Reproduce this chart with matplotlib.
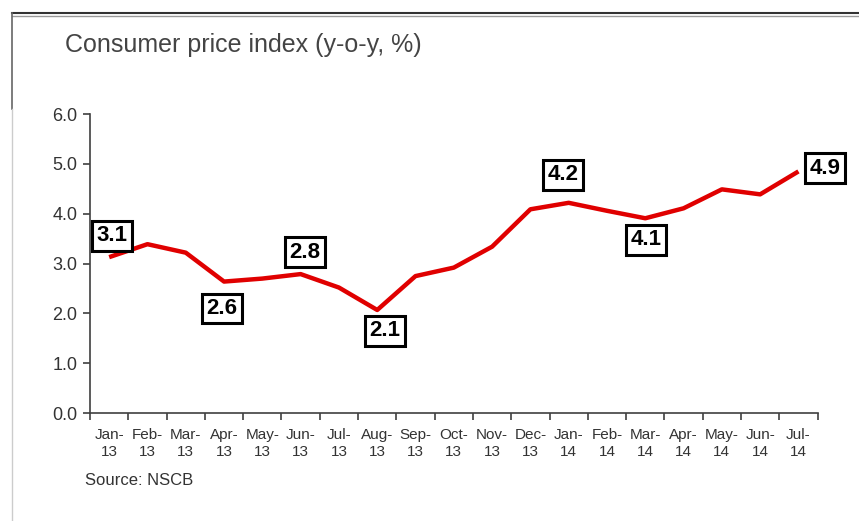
import numpy as np
import matplotlib.pyplot as plt
from matplotlib.lines import Line2D

# Consumer price index, year on year (%)
months = ["Jan-\n13", "Feb-\n13", "Mar-\n13", "Apr-\n13", "May-\n13", "Jun-\n13",
          "Jul-\n13", "Aug-\n13", "Sep-\n13", "Oct-\n13", "Nov-\n13", "Dec-\n13",
          "Jan-\n14", "Feb-\n14", "Mar-\n14", "Apr-\n14", "May-\n14", "Jun-\n14",
          "Jul-\n14"]
cpi = [3.13, 3.39, 3.22, 2.64, 2.70, 2.79, 2.52, 2.07, 2.75, 2.92,
       3.34, 4.09, 4.22, 4.06, 3.91, 4.11, 4.49, 4.39, 4.85]

# callouts: which month, and the printed text
callout_idx = [0, 3, 5, 7, 12, 14, 18]
callout_text = ["3.1", "2.6", "2.8", "2.1", "4.2", "4.1", "4.9"]
# where each box sits relative to its point (data units)
callout_offset = [(0.07, 0.43), (-0.06, -0.54), (0.11, 0.44), (0.2, -0.42),
                  (-0.14, 0.56), (0.03, -0.43), (0.69, 0.06)]

plt.rcParams['font.family'] = ['Liberation Sans', 'DejaVu Sans']

fig = plt.figure(figsize=(8.59, 5.21), dpi=100)
ax = fig.add_axes([0.1048, 0.207, 0.847, 0.574])

x = np.arange(len(months))
ax.plot(x, cpi, color="#e00000", linewidth=3.2, solid_joinstyle="round",
        solid_capstyle="butt", zorder=3)

for i, txt, (dx, dy) in zip(callout_idx, callout_text, callout_offset):
    ax.text(x[i] + dx, cpi[i] + dy, txt, ha="center", va="center",
            fontsize=16, fontweight="bold", color="black", zorder=4,
            bbox=dict(boxstyle="square,pad=0.2", facecolor="white",
                      edgecolor="black", linewidth=2.2))

ax.set_xlim(-0.5, len(months) - 0.5)
ax.set_ylim(0, 6)
ax.set_yticks(np.arange(0, 6.1, 1.0))
ax.set_yticklabels([f"{v:.1f}" for v in np.arange(0, 6.1, 1.0)])

# tick marks between months, labels centred under each month
ax.set_xticks(np.arange(-0.5, len(months), 1.0))
ax.set_xticklabels([])
ax.set_xticks(x, minor=True)
ax.set_xticklabels(months, minor=True)
ax.tick_params(axis="x", which="major", length=5, width=1.2, color="#404040")
ax.tick_params(axis="x", which="minor", length=0, pad=11, labelsize=11,
               labelcolor="#333333")
ax.tick_params(axis="y", length=5, width=1.2, color="#404040", labelsize=13,
               labelcolor="#333333", pad=4)

for side in ["top", "right"]:
    ax.spines[side].set_visible(False)
for side in ["left", "bottom"]:
    ax.spines[side].set_color("#404040")
    ax.spines[side].set_linewidth(1.2)

fig.text(0.076, 0.913, "Consumer price index (y-o-y, %)", fontsize=18,
         color="#444444", ha="left", va="center")
fig.text(0.099, 0.078, "Source: NSCB", fontsize=12, color="#333333",
         ha="left", va="center")

# frame lines from the original slide
fig.add_artist(Line2D([0.014, 1.0], [0.975, 0.975], color="#333333", lw=1.5))
fig.add_artist(Line2D([0.014, 1.0], [0.969, 0.969], color="#999999", lw=1))
fig.add_artist(Line2D([0.014, 0.014], [0.79, 0.975], color="#666666", lw=1.2))
fig.add_artist(Line2D([0.014, 0.014], [0.0, 0.79], color="#cccccc", lw=1))

fig.savefig("out.png", dpi=100)
